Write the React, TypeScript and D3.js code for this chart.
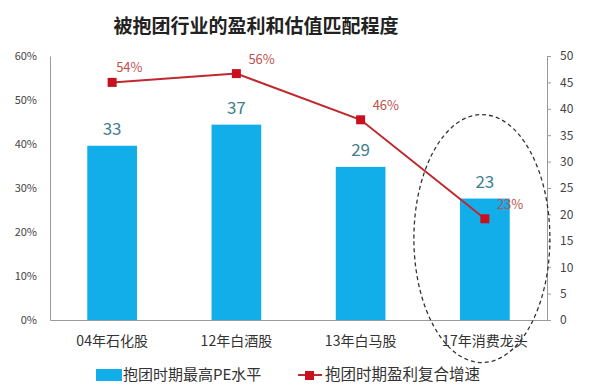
import * as d3 from "d3";
import { useEffect, useRef } from "react";

const categories = ["04年石化股", "12年白酒股", "13年白马股", "17年消费龙头"];
const peValues = [33, 37, 29, 23];
const growthValues = [0.54, 0.56, 0.455, 0.23];
const growthLabels = ["54%", "56%", "46%", "23%"];
const leftTicks = [0, 0.1, 0.2, 0.3, 0.4, 0.5, 0.6];
const rightTicks = [0, 5, 10, 15, 20, 25, 30, 35, 40, 45, 50];

const title = "被抱团行业的盈利和估值匹配程度";
const barLegend = "抱团时期最高PE水平";
const lineLegend = "抱团时期盈利复合增速";

const W = 594;
const H = 392;
const FONT = "'Noto Sans CJK SC', 'Noto Sans', sans-serif";

const App = () => {
  const ref = useRef(null);

  useEffect(() => {
    const svg = d3.select(ref.current);
    svg.selectAll("*").remove();

    const margin = { top: 56, bottom: 72, left: 50, right: 47 };
    const innerW = W - margin.left - margin.right;
    const innerH = H - margin.top - margin.bottom;

    const x = d3
      .scaleBand()
      .domain(categories)
      .range([0, innerW])
      .paddingInner(0.6)
      .paddingOuter(0.3);
    const yLeft = d3.scaleLinear().domain([0, 0.6]).range([innerH, 0]);
    const yRight = d3.scaleLinear().domain([0, 50]).range([innerH, 0]);

    svg
      .append("rect")
      .attr("width", W)
      .attr("height", H)
      .attr("fill", "#fff");

    svg
      .append("text")
      .attr("x", 256)
      .attr("y", 33)
      .attr("text-anchor", "middle")
      .attr("font-family", FONT)
      .attr("font-size", 19)
      .attr("font-weight", "bold")
      .attr("fill", "#222")
      .text(title);

    const g = svg
      .append("g")
      .attr("transform", `translate(${margin.left},${margin.top})`);

    // bars
    g.selectAll(".bar")
      .data(peValues)
      .enter()
      .append("rect")
      .attr("class", "bar")
      .attr("x", (d, i) => x(categories[i]))
      .attr("y", d => yRight(d))
      .attr("width", x.bandwidth())
      .attr("height", d => innerH - yRight(d))
      .attr("fill", "#12aeea");

    g.selectAll(".barLabel")
      .data(peValues)
      .enter()
      .append("text")
      .attr("x", (d, i) => x(categories[i]) + x.bandwidth() / 2)
      .attr("y", d => yRight(d) - 11)
      .attr("text-anchor", "middle")
      .attr("font-family", FONT)
      .attr("font-size", 17)
      .attr("fill", "#3f7f8f")
      .text(d => d);

    // axes
    const leftAxis = g
      .append("g")
      .call(
        d3
          .axisLeft(yLeft)
          .tickValues(leftTicks)
          .tickFormat(d3.format(".0%"))
          .tickSize(0)
          .tickPadding(13)
      );
    leftAxis.select(".domain").attr("stroke", "#9a9a9a");
    leftAxis
      .selectAll("text")
      .attr("font-family", FONT)
      .attr("font-size", 11)
      .attr("fill", "#444");

    const rightAxis = g
      .append("g")
      .attr("transform", `translate(${innerW},0)`)
      .call(
        d3
          .axisRight(yRight)
          .tickValues(rightTicks)
          .tickSizeInner(4)
          .tickSizeOuter(0)
          .tickPadding(9)
      );
    rightAxis.selectAll("line").attr("stroke", "#9a9a9a");
    rightAxis.select(".domain").attr("stroke", "#9a9a9a");
    rightAxis
      .selectAll("text")
      .attr("font-family", FONT)
      .attr("font-size", 12)
      .attr("fill", "#444");

    const bottomAxis = g
      .append("g")
      .attr("transform", `translate(0,${innerH})`)
      .call(d3.axisBottom(x).tickSize(0).tickPadding(16));
    bottomAxis.select(".domain").attr("stroke", "#9a9a9a");
    bottomAxis
      .selectAll("text")
      .attr("font-family", FONT)
      .attr("font-size", 14)
      .attr("fill", "#333");

    // line
    const line = d3
      .line<number>()
      .x((d, i) => x(categories[i]) + x.bandwidth() / 2)
      .y(d => yLeft(d));

    g.append("path")
      .datum(growthValues)
      .attr("d", line)
      .attr("fill", "none")
      .attr("stroke", "#c0282d")
      .attr("stroke-width", 2);

    g.selectAll(".marker")
      .data(growthValues)
      .enter()
      .append("rect")
      .attr("x", (d, i) => x(categories[i]) + x.bandwidth() / 2 - 4.5)
      .attr("y", d => yLeft(d) - 4.5)
      .attr("width", 9)
      .attr("height", 9)
      .attr("fill", "#c8101e");

    g.selectAll(".lineLabel")
      .data(growthValues)
      .enter()
      .append("text")
      .attr("x", (d, i) => x(categories[i]) + x.bandwidth() / 2 + (i === 0 ? 4 : 12))
      .attr("y", d => yLeft(d) - 10)
      .attr("font-family", FONT)
      .attr("font-size", 13)
      .attr("fill", "#c0504d")
      .text((d, i) => growthLabels[i]);

    // dashed ellipse around the last category
    const last = categories[categories.length - 1];
    g.append("ellipse")
      .attr("cx", x(last) + x.bandwidth() / 2 - 3)
      .attr("cy", yRight(23) + 40)
      .attr("rx", 68)
      .attr("ry", 124)
      .attr("fill", "none")
      .attr("stroke", "#333")
      .attr("stroke-width", 1.3)
      .attr("stroke-dasharray", "4,3");

    // legend
    const legend = svg.append("g").attr("transform", "translate(96,375)");
    legend
      .append("rect")
      .attr("x", 0)
      .attr("y", -6)
      .attr("width", 26)
      .attr("height", 12)
      .attr("fill", "#12aeea");
    legend
      .append("text")
      .attr("x", 27)
      .attr("y", 0)
      .attr("dy", "0.35em")
      .attr("font-family", FONT)
      .attr("font-size", 15)
      .attr("fill", "#333")
      .text(barLegend);

    legend
      .append("line")
      .attr("x1", 202)
      .attr("x2", 226)
      .attr("y1", 0)
      .attr("y2", 0)
      .attr("stroke", "#c0282d")
      .attr("stroke-width", 2);
    legend
      .append("rect")
      .attr("x", 209)
      .attr("y", -4)
      .attr("width", 9)
      .attr("height", 9)
      .attr("fill", "#c8101e");
    legend
      .append("text")
      .attr("x", 229)
      .attr("y", 0)
      .attr("dy", "0.35em")
      .attr("font-family", FONT)
      .attr("font-size", 15.5)
      .attr("fill", "#333")
      .text(lineLegend);
  }, []);

  return (
    <svg
      ref={ref}
      width={W}
      height={H}
      style={{ position: "absolute", left: 0, top: 0 }}
    ></svg>
  );
};

export default App;
